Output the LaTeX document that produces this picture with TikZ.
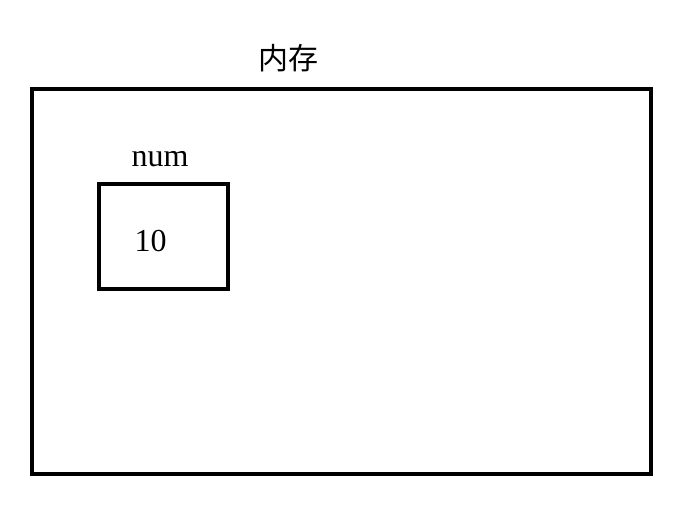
\documentclass[tikz,border=0pt]{standalone}
\usepackage{fontspec}
\setmainfont{Liberation Serif}
\newfontfamily\cjk{Noto Sans CJK SC}
\begin{document}
\begin{tikzpicture}[x=1pt,y=-1pt,
  boxline/.style={draw=black,line width=4.5pt},
  lbl/.style={inner sep=0pt,anchor=center}]
\useasboundingbox (0,0) rectangle (700,507);
\fill[white] (0,0) rectangle (700,507);
\node[boxline,minimum width=619pt,minimum height=385pt,inner sep=0pt] (mem) at (341.5,281.5) {};
\node[boxline,minimum width=129pt,minimum height=105pt,inner sep=0pt] (var) at (163.5,236.5) {};
\node[lbl,font=\cjk\fontsize{30}{32}\selectfont] (memlbl) at (288,58) {内存};
\node[lbl,font=\fontsize{32}{34}\selectfont,yshift=-3pt] (numlbl) at (160,156) {num};
\node[lbl,font=\fontsize{32}{34}\selectfont] (val) at (150.5,241) {10};
\end{tikzpicture}
\end{document}
